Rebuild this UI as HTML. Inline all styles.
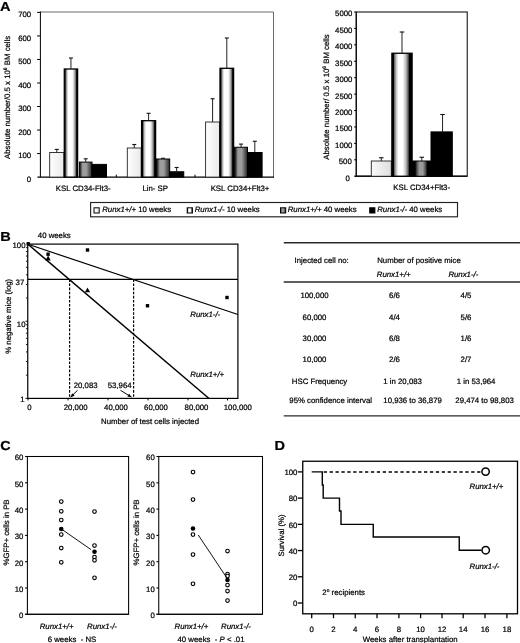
<!DOCTYPE html>
<html><head><meta charset="utf-8"><title>Figure</title>
<style>
html,body{margin:0;padding:0;background:#fff;}
svg{display:block;}
svg text{font-family:"Liberation Sans",sans-serif;fill:#000;stroke:#000;stroke-width:0.22px;text-rendering:geometricPrecision;}
</style></head>
<body>
<svg width="520" height="643" viewBox="0 0 520 643">
<rect x="0" y="0" width="520" height="643" fill="#fff"/>
<filter id="soft" x="0" y="0" width="520" height="643" filterUnits="userSpaceOnUse"><feGaussianBlur stdDeviation="0.3"/></filter>
<g>
<defs>
<linearGradient id="g1a" x1="0" x2="1" y1="0" y2="0"><stop offset="0" stop-color="#ffffff"/><stop offset="1" stop-color="#e9e9e9"/></linearGradient>
<linearGradient id="g1" x1="0" x2="1" y1="0" y2="0"><stop offset="0" stop-color="#fafafa"/><stop offset="1" stop-color="#dedede"/></linearGradient>
<linearGradient id="g2a" x1="0" x2="1" y1="0" y2="0"><stop offset="0" stop-color="#000"/><stop offset="0.06" stop-color="#000"/><stop offset="0.12" stop-color="#666"/><stop offset="0.21" stop-color="#c8c8c8"/><stop offset="0.31" stop-color="#fff"/><stop offset="0.6" stop-color="#fff"/><stop offset="0.74" stop-color="#c8c8c8"/><stop offset="0.86" stop-color="#666"/><stop offset="0.93" stop-color="#000"/><stop offset="1" stop-color="#000"/></linearGradient>
<linearGradient id="g2" x1="0" x2="1" y1="0" y2="0"><stop offset="0" stop-color="#000"/><stop offset="0.08" stop-color="#000"/><stop offset="0.12" stop-color="#666"/><stop offset="0.22" stop-color="#c8c8c8"/><stop offset="0.33" stop-color="#fff"/><stop offset="0.53" stop-color="#fff"/><stop offset="0.67" stop-color="#c8c8c8"/><stop offset="0.8" stop-color="#666"/><stop offset="0.87" stop-color="#000"/><stop offset="1" stop-color="#000"/></linearGradient>
<linearGradient id="g3" x1="0" x2="1" y1="0" y2="0"><stop offset="0" stop-color="#111"/><stop offset="0.1" stop-color="#3a3a3a"/><stop offset="0.25" stop-color="#9c9c9c"/><stop offset="0.55" stop-color="#9c9c9c"/><stop offset="0.8" stop-color="#5a5a5a"/><stop offset="1" stop-color="#222"/></linearGradient>
<linearGradient id="g3b" x1="0" x2="1" y1="0" y2="0"><stop offset="0" stop-color="#000"/><stop offset="0.14" stop-color="#000"/><stop offset="0.22" stop-color="#444"/><stop offset="0.36" stop-color="#9a9a9a"/><stop offset="0.56" stop-color="#9a9a9a"/><stop offset="0.7" stop-color="#505050"/><stop offset="0.8" stop-color="#000"/><stop offset="1" stop-color="#000"/></linearGradient>
</defs>
<line x1="40.4" y1="12.0" x2="273.5" y2="12.0" stroke="#6a6a6a" stroke-width="1"/>
<line x1="273.5" y1="12.0" x2="273.5" y2="177.1" stroke="#6a6a6a" stroke-width="1"/>
<line x1="40.4" y1="11.5" x2="40.4" y2="177.1" stroke="#000" stroke-width="1"/>
<line x1="37.4" y1="177.1" x2="274.0" y2="177.1" stroke="#000" stroke-width="1.1"/>
<line x1="37.1" y1="153.57142857142856" x2="40.4" y2="153.57142857142856" stroke="#000" stroke-width="1"/>
<line x1="37.1" y1="130.04285714285714" x2="40.4" y2="130.04285714285714" stroke="#000" stroke-width="1"/>
<line x1="37.1" y1="106.51428571428572" x2="40.4" y2="106.51428571428572" stroke="#000" stroke-width="1"/>
<line x1="37.1" y1="82.9857142857143" x2="40.4" y2="82.9857142857143" stroke="#000" stroke-width="1"/>
<line x1="37.1" y1="59.457142857142856" x2="40.4" y2="59.457142857142856" stroke="#000" stroke-width="1"/>
<line x1="37.1" y1="35.928571428571445" x2="40.4" y2="35.928571428571445" stroke="#000" stroke-width="1"/>
<line x1="37.1" y1="12.400000000000006" x2="40.4" y2="12.400000000000006" stroke="#000" stroke-width="1"/>
<line x1="116.3" y1="174.6" x2="116.3" y2="177.1" stroke="#000" stroke-width="1"/>
<line x1="195" y1="174.6" x2="195" y2="177.1" stroke="#000" stroke-width="1"/>
<rect x="49.70" y="152.50" width="14.20" height="24.60" fill="url(#g1a)" stroke="#222" stroke-width="0.9"/>
<line x1="56.8" y1="152.5" x2="56.8" y2="149.4" stroke="#222" stroke-width="1"/>
<line x1="54.8" y1="149.4" x2="58.8" y2="149.4" stroke="#111" stroke-width="1.1"/>
<rect x="64.30" y="69.00" width="13.30" height="108.10" fill="url(#g2a)" stroke="#000" stroke-width="1.3"/>
<line x1="70.94999999999999" y1="69" x2="70.94999999999999" y2="58" stroke="#222" stroke-width="1"/>
<line x1="68.94999999999999" y1="58" x2="72.94999999999999" y2="58" stroke="#111" stroke-width="1.1"/>
<rect x="79.40" y="162.10" width="12.60" height="15.00" fill="url(#g3)" stroke="#000" stroke-width="1.0"/>
<line x1="85.7" y1="162.1" x2="85.7" y2="158.8" stroke="#222" stroke-width="1"/>
<line x1="83.7" y1="158.8" x2="87.7" y2="158.8" stroke="#111" stroke-width="1.1"/>
<rect x="92.00" y="164.40" width="14.50" height="12.70" fill="#000" stroke="#000" stroke-width="1.0"/>
<rect x="127.30" y="148.00" width="13.90" height="29.10" fill="url(#g1a)" stroke="#222" stroke-width="0.9"/>
<line x1="134.25" y1="148" x2="134.25" y2="144.5" stroke="#222" stroke-width="1"/>
<line x1="132.25" y1="144.5" x2="136.25" y2="144.5" stroke="#111" stroke-width="1.1"/>
<rect x="141.60" y="120.70" width="14.00" height="56.40" fill="url(#g2a)" stroke="#000" stroke-width="1.3"/>
<line x1="148.6" y1="120.7" x2="148.6" y2="113.3" stroke="#222" stroke-width="1"/>
<line x1="146.6" y1="113.3" x2="150.6" y2="113.3" stroke="#111" stroke-width="1.1"/>
<rect x="156.40" y="159.00" width="13.30" height="18.10" fill="url(#g3)" stroke="#000" stroke-width="1.0"/>
<line x1="163.05" y1="159" x2="163.05" y2="158.3" stroke="#222" stroke-width="1"/>
<line x1="161.05" y1="158.3" x2="165.05" y2="158.3" stroke="#111" stroke-width="1.1"/>
<rect x="169.50" y="171.75" width="14.25" height="5.35" fill="#000" stroke="#000" stroke-width="1.0"/>
<line x1="176.625" y1="171.75" x2="176.625" y2="167.5" stroke="#222" stroke-width="1"/>
<line x1="174.625" y1="167.5" x2="178.625" y2="167.5" stroke="#111" stroke-width="1.1"/>
<rect x="205.60" y="122.00" width="14.00" height="55.10" fill="url(#g1a)" stroke="#222" stroke-width="0.9"/>
<line x1="212.6" y1="122" x2="212.6" y2="98.75" stroke="#222" stroke-width="1"/>
<line x1="210.6" y1="98.75" x2="214.6" y2="98.75" stroke="#111" stroke-width="1.1"/>
<rect x="220.00" y="68.30" width="13.60" height="108.80" fill="url(#g2a)" stroke="#000" stroke-width="1.3"/>
<line x1="226.8" y1="68.3" x2="226.8" y2="38" stroke="#222" stroke-width="1"/>
<line x1="224.8" y1="38" x2="228.8" y2="38" stroke="#111" stroke-width="1.1"/>
<rect x="234.60" y="147.25" width="12.90" height="29.85" fill="url(#g3)" stroke="#000" stroke-width="1.0"/>
<line x1="241.05" y1="147.25" x2="241.05" y2="144.1" stroke="#222" stroke-width="1"/>
<line x1="239.05" y1="144.1" x2="243.05" y2="144.1" stroke="#111" stroke-width="1.1"/>
<rect x="247.50" y="152.50" width="14.60" height="24.60" fill="#000" stroke="#000" stroke-width="1.0"/>
<line x1="254.8" y1="152.5" x2="254.8" y2="141.25" stroke="#222" stroke-width="1"/>
<line x1="252.8" y1="141.25" x2="256.8" y2="141.25" stroke="#111" stroke-width="1.1"/>
<rect x="90.60" y="202.50" width="366.90" height="14.30" fill="none" stroke="#222" stroke-width="1.15"/>
<rect x="94.00" y="207.80" width="5.20" height="5.20" fill="url(#g1a)" stroke="#000" stroke-width="1"/>
<rect x="187.20" y="207.80" width="5.20" height="5.20" fill="url(#g2a)" stroke="#000" stroke-width="1"/>
<rect x="280.50" y="207.80" width="5.20" height="5.20" fill="url(#g3)" stroke="#000" stroke-width="1"/>
<rect x="369.70" y="207.80" width="5.20" height="5.20" fill="#000" stroke="#000" stroke-width="1"/>
<rect x="356.30" y="12.00" width="110.95" height="164.25" fill="none" stroke="#222" stroke-width="1.15"/>
<line x1="354.3" y1="176.25" x2="467.25" y2="176.25" stroke="#111" stroke-width="1.35"/>
<line x1="356.3" y1="12.0" x2="356.3" y2="176.25" stroke="#111" stroke-width="1.3"/>
<line x1="354.1" y1="159.825" x2="356.3" y2="159.825" stroke="#000" stroke-width="1"/>
<line x1="354.1" y1="143.4" x2="356.3" y2="143.4" stroke="#000" stroke-width="1"/>
<line x1="354.1" y1="126.975" x2="356.3" y2="126.975" stroke="#000" stroke-width="1"/>
<line x1="354.1" y1="110.55000000000001" x2="356.3" y2="110.55000000000001" stroke="#000" stroke-width="1"/>
<line x1="354.1" y1="94.125" x2="356.3" y2="94.125" stroke="#000" stroke-width="1"/>
<line x1="354.1" y1="77.7" x2="356.3" y2="77.7" stroke="#000" stroke-width="1"/>
<line x1="354.1" y1="61.275000000000006" x2="356.3" y2="61.275000000000006" stroke="#000" stroke-width="1"/>
<line x1="354.1" y1="44.85000000000002" x2="356.3" y2="44.85000000000002" stroke="#000" stroke-width="1"/>
<line x1="354.1" y1="28.42500000000001" x2="356.3" y2="28.42500000000001" stroke="#000" stroke-width="1"/>
<line x1="354.1" y1="12.0" x2="356.3" y2="12.0" stroke="#000" stroke-width="1"/>
<rect x="371.30" y="161.00" width="20.00" height="15.25" fill="url(#g1)" stroke="#222" stroke-width="0.9"/>
<line x1="381.3" y1="161" x2="381.3" y2="157.75" stroke="#222" stroke-width="1"/>
<line x1="379.05" y1="157.75" x2="383.55" y2="157.75" stroke="#111" stroke-width="1.1"/>
<rect x="391.90" y="53.25" width="20.20" height="123.00" fill="url(#g2)" stroke="#000" stroke-width="1.3"/>
<line x1="402.0" y1="53.25" x2="402.0" y2="32" stroke="#222" stroke-width="1"/>
<line x1="399.75" y1="32" x2="404.25" y2="32" stroke="#111" stroke-width="1.1"/>
<rect x="412.60" y="161.00" width="18.40" height="15.25" fill="url(#g3b)" stroke="#000" stroke-width="1.0"/>
<line x1="421.8" y1="161" x2="421.8" y2="157.25" stroke="#222" stroke-width="1"/>
<line x1="419.55" y1="157.25" x2="424.05" y2="157.25" stroke="#111" stroke-width="1.1"/>
<rect x="431.00" y="131.90" width="21.30" height="44.35" fill="#000" stroke="#000" stroke-width="1.0"/>
<line x1="442.54999999999995" y1="131.9" x2="442.54999999999995" y2="114.5" stroke="#222" stroke-width="1"/>
<line x1="440.29999999999995" y1="114.5" x2="444.79999999999995" y2="114.5" stroke="#111" stroke-width="1.1"/>
<rect x="27.75" y="244.10" width="210.15" height="154.30" fill="none" stroke="#000" stroke-width="1.2"/>
<line x1="27.75" y1="279.4" x2="237.9" y2="279.4" stroke="#000" stroke-width="1.1"/>
<line x1="25.95" y1="247.6301903967561" x2="27.75" y2="247.6301903967561" stroke="#000" stroke-width="0.9"/>
<line x1="25.95" y1="251.57660750357155" x2="27.75" y2="251.57660750357155" stroke="#000" stroke-width="0.9"/>
<line x1="25.95" y1="256.0506862129001" x2="27.75" y2="256.0506862129001" stroke="#000" stroke-width="0.9"/>
<line x1="25.95" y1="261.2156310329019" x2="27.75" y2="261.2156310329019" stroke="#000" stroke-width="0.9"/>
<line x1="25.95" y1="267.3244641654761" x2="27.75" y2="267.3244641654761" stroke="#000" stroke-width="0.9"/>
<line x1="25.95" y1="274.8010716690477" x2="27.75" y2="274.8010716690477" stroke="#000" stroke-width="0.9"/>
<line x1="25.95" y1="284.44009519837806" x2="27.75" y2="284.44009519837806" stroke="#000" stroke-width="0.9"/>
<line x1="25.95" y1="298.02553583452385" x2="27.75" y2="298.02553583452385" stroke="#000" stroke-width="0.9"/>
<line x1="25.55" y1="321.25" x2="27.75" y2="321.25" stroke="#000" stroke-width="1"/>
<line x1="25.95" y1="324.7801903967561" x2="27.75" y2="324.7801903967561" stroke="#000" stroke-width="0.9"/>
<line x1="25.95" y1="328.72660750357153" x2="27.75" y2="328.72660750357153" stroke="#000" stroke-width="0.9"/>
<line x1="25.95" y1="333.2006862129001" x2="27.75" y2="333.2006862129001" stroke="#000" stroke-width="0.9"/>
<line x1="25.95" y1="338.3656310329019" x2="27.75" y2="338.3656310329019" stroke="#000" stroke-width="0.9"/>
<line x1="25.95" y1="344.47446416547615" x2="27.75" y2="344.47446416547615" stroke="#000" stroke-width="0.9"/>
<line x1="25.95" y1="351.9510716690477" x2="27.75" y2="351.9510716690477" stroke="#000" stroke-width="0.9"/>
<line x1="25.95" y1="361.59009519837804" x2="27.75" y2="361.59009519837804" stroke="#000" stroke-width="0.9"/>
<line x1="25.95" y1="375.1755358345238" x2="27.75" y2="375.1755358345238" stroke="#000" stroke-width="0.9"/>
<line x1="25.55" y1="398.4" x2="27.75" y2="398.4" stroke="#000" stroke-width="1"/>
<line x1="28" y1="244.3" x2="237.9" y2="314.5" stroke="#000" stroke-width="1.2"/>
<line x1="28" y1="244.3" x2="208.75" y2="398.3" stroke="#000" stroke-width="1.5"/>
<line x1="69.6" y1="279.4" x2="69.6" y2="398" stroke="#000" stroke-width="1.2" stroke-dasharray="2.6 1.5"/>
<line x1="133.6" y1="279.4" x2="133.6" y2="398" stroke="#000" stroke-width="1.2" stroke-dasharray="2.6 1.5"/>
<rect x="26.50" y="242.10" width="3.40" height="3.40" fill="#000" stroke="none" stroke-width="1"/>
<rect x="85.80" y="248.30" width="3.40" height="3.40" fill="#000" stroke="none" stroke-width="1"/>
<rect x="145.80" y="304.05" width="3.40" height="3.40" fill="#000" stroke="none" stroke-width="1"/>
<rect x="225.30" y="295.80" width="3.40" height="3.40" fill="#000" stroke="none" stroke-width="1"/>
<rect x="46.40" y="252.50" width="3.40" height="3.40" fill="#000" stroke="none" stroke-width="1"/>
<polygon points="48.1,255.6 50.7,260.40999999999997 45.5,260.40999999999997" fill="#000"/>
<polygon points="87.5,287.4 90.1,292.21 84.9,292.21" fill="#000"/>
<line x1="28" y1="398.4" x2="28" y2="400.4" stroke="#000" stroke-width="1"/>
<line x1="68" y1="398.4" x2="68" y2="400.4" stroke="#000" stroke-width="1"/>
<line x1="108" y1="398.4" x2="108" y2="400.4" stroke="#000" stroke-width="1"/>
<line x1="148" y1="398.4" x2="148" y2="400.4" stroke="#000" stroke-width="1"/>
<line x1="188" y1="398.4" x2="188" y2="400.4" stroke="#000" stroke-width="1"/>
<line x1="227.5" y1="398.4" x2="227.5" y2="400.4" stroke="#000" stroke-width="1"/>
<line x1="77.5" y1="390.3" x2="70.6" y2="397.2" stroke="#000" stroke-width="1"/>
<polygon points="70.60,397.20 72.14,393.18 74.62,395.66" fill="#000"/>
<line x1="120.5" y1="390.3" x2="131.6" y2="397.2" stroke="#000" stroke-width="1"/>
<polygon points="131.60,397.20 127.34,396.62 129.19,393.64" fill="#000"/>
<line x1="283.75" y1="242.75" x2="520" y2="242.75" stroke="#2a2a2a" stroke-width="1.4"/>
<line x1="283.75" y1="282" x2="520" y2="282" stroke="#2a2a2a" stroke-width="1.4"/>
<line x1="283.75" y1="415.9" x2="520" y2="415.9" stroke="#2a2a2a" stroke-width="1.4"/>
<rect x="27.40" y="456.50" width="101.20" height="157.80" fill="none" stroke="#000" stroke-width="1.05"/>
<line x1="25.099999999999998" y1="614.3" x2="128.6" y2="614.3" stroke="#000" stroke-width="1.1"/>
<line x1="25.099999999999998" y1="614.3" x2="27.4" y2="614.3" stroke="#000" stroke-width="1.1"/>
<line x1="25.099999999999998" y1="588.0" x2="27.4" y2="588.0" stroke="#000" stroke-width="1.1"/>
<line x1="25.099999999999998" y1="561.6999999999999" x2="27.4" y2="561.6999999999999" stroke="#000" stroke-width="1.1"/>
<line x1="25.099999999999998" y1="535.4" x2="27.4" y2="535.4" stroke="#000" stroke-width="1.1"/>
<line x1="25.099999999999998" y1="509.09999999999997" x2="27.4" y2="509.09999999999997" stroke="#000" stroke-width="1.1"/>
<line x1="25.099999999999998" y1="482.79999999999995" x2="27.4" y2="482.79999999999995" stroke="#000" stroke-width="1.1"/>
<line x1="25.099999999999998" y1="456.5" x2="27.4" y2="456.5" stroke="#000" stroke-width="1.1"/>
<circle cx="61.25" cy="501.5" r="1.8" fill="#fff" stroke="#000" stroke-width="1.15"/>
<circle cx="61.25" cy="511.25" r="1.8" fill="#fff" stroke="#000" stroke-width="1.15"/>
<circle cx="61.25" cy="520" r="1.8" fill="#fff" stroke="#000" stroke-width="1.15"/>
<circle cx="61.25" cy="534.5" r="1.8" fill="#fff" stroke="#000" stroke-width="1.15"/>
<circle cx="61.25" cy="548" r="1.8" fill="#fff" stroke="#000" stroke-width="1.15"/>
<circle cx="61.25" cy="562.25" r="1.8" fill="#fff" stroke="#000" stroke-width="1.15"/>
<circle cx="61.25" cy="529" r="2.3" fill="#000"/>
<circle cx="94.5" cy="511.5" r="1.8" fill="#fff" stroke="#000" stroke-width="1.15"/>
<circle cx="94.5" cy="545.5" r="1.8" fill="#fff" stroke="#000" stroke-width="1.15"/>
<circle cx="94.5" cy="557" r="1.8" fill="#fff" stroke="#000" stroke-width="1.15"/>
<circle cx="94.5" cy="560.25" r="1.8" fill="#fff" stroke="#000" stroke-width="1.15"/>
<circle cx="94.5" cy="577.75" r="1.8" fill="#fff" stroke="#000" stroke-width="1.15"/>
<circle cx="94.5" cy="551.75" r="2.3" fill="#000"/>
<line x1="62.2" y1="529.6" x2="91" y2="549.6" stroke="#111" stroke-width="1.0"/>
<rect x="158.75" y="456.50" width="103.75" height="157.80" fill="none" stroke="#000" stroke-width="1.05"/>
<line x1="156.45" y1="614.3" x2="262.5" y2="614.3" stroke="#000" stroke-width="1.1"/>
<line x1="156.45" y1="614.3" x2="158.75" y2="614.3" stroke="#000" stroke-width="1.1"/>
<line x1="156.45" y1="588.0" x2="158.75" y2="588.0" stroke="#000" stroke-width="1.1"/>
<line x1="156.45" y1="561.6999999999999" x2="158.75" y2="561.6999999999999" stroke="#000" stroke-width="1.1"/>
<line x1="156.45" y1="535.4" x2="158.75" y2="535.4" stroke="#000" stroke-width="1.1"/>
<line x1="156.45" y1="509.09999999999997" x2="158.75" y2="509.09999999999997" stroke="#000" stroke-width="1.1"/>
<line x1="156.45" y1="482.79999999999995" x2="158.75" y2="482.79999999999995" stroke="#000" stroke-width="1.1"/>
<line x1="156.45" y1="456.5" x2="158.75" y2="456.5" stroke="#000" stroke-width="1.1"/>
<circle cx="193" cy="472" r="1.8" fill="#fff" stroke="#000" stroke-width="1.15"/>
<circle cx="193" cy="499.5" r="1.8" fill="#fff" stroke="#000" stroke-width="1.15"/>
<circle cx="193" cy="534.5" r="1.8" fill="#fff" stroke="#000" stroke-width="1.15"/>
<circle cx="193" cy="554.5" r="1.8" fill="#fff" stroke="#000" stroke-width="1.15"/>
<circle cx="193" cy="583.75" r="1.8" fill="#fff" stroke="#000" stroke-width="1.15"/>
<circle cx="193" cy="528.5" r="2.3" fill="#000"/>
<circle cx="227.5" cy="551" r="1.8" fill="#fff" stroke="#000" stroke-width="1.15"/>
<circle cx="227.5" cy="574" r="1.8" fill="#fff" stroke="#000" stroke-width="1.15"/>
<circle cx="227.5" cy="576" r="1.8" fill="#fff" stroke="#000" stroke-width="1.15"/>
<circle cx="227.5" cy="585" r="1.8" fill="#fff" stroke="#000" stroke-width="1.15"/>
<circle cx="227.5" cy="591" r="1.8" fill="#fff" stroke="#000" stroke-width="1.15"/>
<circle cx="227.5" cy="600.5" r="1.8" fill="#fff" stroke="#000" stroke-width="1.15"/>
<circle cx="227.5" cy="580" r="2.3" fill="#000"/>
<line x1="198.25" y1="535" x2="226.25" y2="577" stroke="#111" stroke-width="1.0"/>
<rect x="302.75" y="461.25" width="214.75" height="152.55" fill="none" stroke="#000" stroke-width="1.3"/>
<line x1="297.75" y1="471.9" x2="302.75" y2="471.9" stroke="#000" stroke-width="1.3"/>
<line x1="297.75" y1="498.12" x2="302.75" y2="498.12" stroke="#000" stroke-width="1.3"/>
<line x1="297.75" y1="524.3399999999999" x2="302.75" y2="524.3399999999999" stroke="#000" stroke-width="1.3"/>
<line x1="297.75" y1="550.56" x2="302.75" y2="550.56" stroke="#000" stroke-width="1.3"/>
<line x1="297.75" y1="576.78" x2="302.75" y2="576.78" stroke="#000" stroke-width="1.3"/>
<line x1="297.75" y1="603.0" x2="302.75" y2="603.0" stroke="#000" stroke-width="1.3"/>
<line x1="311.7" y1="613.8" x2="311.7" y2="618.1999999999999" stroke="#000" stroke-width="1.3"/>
<line x1="333.5" y1="613.8" x2="333.5" y2="618.1999999999999" stroke="#000" stroke-width="1.3"/>
<line x1="355.25" y1="613.8" x2="355.25" y2="618.1999999999999" stroke="#000" stroke-width="1.3"/>
<line x1="377" y1="613.8" x2="377" y2="618.1999999999999" stroke="#000" stroke-width="1.3"/>
<line x1="398.9" y1="613.8" x2="398.9" y2="618.1999999999999" stroke="#000" stroke-width="1.3"/>
<line x1="420.6" y1="613.8" x2="420.6" y2="618.1999999999999" stroke="#000" stroke-width="1.3"/>
<line x1="442" y1="613.8" x2="442" y2="618.1999999999999" stroke="#000" stroke-width="1.3"/>
<line x1="463.2" y1="613.8" x2="463.2" y2="618.1999999999999" stroke="#000" stroke-width="1.3"/>
<line x1="485" y1="613.8" x2="485" y2="618.1999999999999" stroke="#000" stroke-width="1.3"/>
<line x1="506.9" y1="613.8" x2="506.9" y2="618.1999999999999" stroke="#000" stroke-width="1.3"/>
<polyline fill="none" stroke="#000" stroke-width="1.4" points="311.7,471.9 322.3,471.9 322.3,485 323.2,485 323.2,498.1 339.5,498.1 339.5,511 341,511 341,524.4 373.25,524.4 373.25,537 459.25,537 459.25,550.3 481.5,550.3"/>
<line x1="323.7" y1="471.9" x2="481.9" y2="471.9" stroke="#000" stroke-width="1.5" stroke-dasharray="3.3 2.6"/>
<circle cx="485.6" cy="471.6" r="3.7" fill="#fff" stroke="#000" stroke-width="1.5"/>
<circle cx="485.7" cy="550.2" r="3.7" fill="#fff" stroke="#000" stroke-width="1.5"/>
</g>
<g filter="url(#soft)">
<text transform="translate(0.0 10.7) scale(1.12 1)" font-size="13" font-weight="bold">A</text>
<text transform="translate(0.3 240.6) scale(1.12 1)" font-size="13" font-weight="bold">B</text>
<text transform="translate(0.3 450.3) scale(1.1 1)" font-size="13" font-weight="bold">C</text>
<text transform="translate(274.4 450.1) scale(1.12 1)" font-size="13" font-weight="bold">D</text>
<text transform="translate(31.2 181.7)" font-size="7.8" text-anchor="end">0</text>
<text transform="translate(31.2 158.17142857142855)" font-size="7.8" text-anchor="end">100</text>
<text transform="translate(31.2 134.64285714285714)" font-size="7.8" text-anchor="end">200</text>
<text transform="translate(31.2 111.11428571428571)" font-size="7.8" text-anchor="end">300</text>
<text transform="translate(31.2 87.58571428571429)" font-size="7.8" text-anchor="end">400</text>
<text transform="translate(31.2 64.05714285714285)" font-size="7.8" text-anchor="end">500</text>
<text transform="translate(31.2 40.528571428571446)" font-size="7.8" text-anchor="end">600</text>
<text transform="translate(31.2 17.000000000000007)" font-size="7.8" text-anchor="end">700</text>
<text transform="translate(83.2 191.2)" font-size="7.8" text-anchor="middle">KSL CD34-Flt3-</text>
<text transform="translate(155.2 191.2)" font-size="7.8" text-anchor="middle">Lin- SP</text>
<text transform="translate(240 191.2)" font-size="7.8" text-anchor="middle">KSL CD34+Flt3+</text>
<text transform="translate(9.6 97.4) rotate(-90)" font-size="7.8" text-anchor="middle">Absolute number/0.5 x 10<tspan font-size="5" dy="-3">6</tspan><tspan dy="3"> BM cells</tspan></text>
<text transform="translate(102.2 212.4)" font-size="7.8"><tspan font-style="italic">Runx1+/+</tspan> 10 weeks</text>
<text transform="translate(194.7 212.4)" font-size="7.8"><tspan font-style="italic">Runx1-/-</tspan> 10 weeks</text>
<text transform="translate(287.7 212.4)" font-size="7.8"><tspan font-style="italic">Runx1+/+</tspan> 40 weeks</text>
<text transform="translate(377.2 212.4)" font-size="7.8"><tspan font-style="italic">Runx1-/-</tspan> 40 weeks</text>
<text transform="translate(349.8 180.65)" font-size="7.8" text-anchor="end">0</text>
<text transform="translate(351.8 164.225)" font-size="7.8" text-anchor="end">500</text>
<text transform="translate(352.4 147.8)" font-size="7.8" text-anchor="end">1000</text>
<text transform="translate(352.4 131.375)" font-size="7.8" text-anchor="end">1500</text>
<text transform="translate(352.4 114.95000000000002)" font-size="7.8" text-anchor="end">2000</text>
<text transform="translate(352.4 98.525)" font-size="7.8" text-anchor="end">2500</text>
<text transform="translate(352.4 82.10000000000001)" font-size="7.8" text-anchor="end">3000</text>
<text transform="translate(352.4 65.67500000000001)" font-size="7.8" text-anchor="end">3500</text>
<text transform="translate(352.4 49.25000000000002)" font-size="7.8" text-anchor="end">4000</text>
<text transform="translate(352.4 32.82500000000001)" font-size="7.8" text-anchor="end">4500</text>
<text transform="translate(352.4 16.4)" font-size="7.8" text-anchor="end">5000</text>
<text transform="translate(421.7 190)" font-size="7.8" text-anchor="middle">KSL CD34+Flt3-</text>
<text transform="translate(329.3 97) rotate(-90)" font-size="7.8" text-anchor="middle">Absolute number/ 0.5 x 10<tspan font-size="5" dy="-3">6</tspan><tspan dy="3"> BM cells</tspan></text>
<text transform="translate(37.8 238.1)" font-size="7.8">40 weeks</text>
<text transform="translate(25.5 248)" font-size="7.8" text-anchor="end">100</text>
<text transform="translate(24.3 285.3)" font-size="7.8" text-anchor="end">37</text>
<text transform="translate(25.5 327.4)" font-size="7.8" text-anchor="end">10</text>
<text transform="translate(24.6 402.2)" font-size="7.8" text-anchor="end">1</text>
<text transform="translate(29.5 410)" font-size="7.8" text-anchor="middle">0</text>
<text transform="translate(75.7 410)" font-size="7.8" text-anchor="middle">20,000</text>
<text transform="translate(116 410)" font-size="7.8" text-anchor="middle">40,000</text>
<text transform="translate(156 410)" font-size="7.8" text-anchor="middle">60,000</text>
<text transform="translate(196.5 410)" font-size="7.8" text-anchor="middle">80,000</text>
<text transform="translate(237.8 410)" font-size="7.8" text-anchor="middle">100,000</text>
<text transform="translate(150 424.4)" font-size="7.8" text-anchor="middle">Number of test cells injected</text>
<text transform="translate(73.7 387.8)" font-size="7.8">20,083</text>
<text transform="translate(107.7 387.8)" font-size="7.8">53,964</text>
<text transform="translate(190.3 316.8)" font-size="7.8" font-style="italic">Runx1-/-</text>
<text transform="translate(190.3 376.5)" font-size="7.8" font-style="italic">Runx1+/+</text>
<text transform="translate(10.6 316.3) rotate(-90)" font-size="7.8" text-anchor="middle">% negative mice (log)</text>
<text transform="translate(294.6 262.8)" font-size="7.8">Injected cell no:</text>
<text transform="translate(377.2 262.8)" font-size="7.8">Number of positive mice</text>
<text transform="translate(376.8 277.3)" font-size="7.8" font-style="italic">Runx1+/+</text>
<text transform="translate(448.4 277.3)" font-size="7.8" font-style="italic">Runx1-/-</text>
<text transform="translate(314.5 298.35)" font-size="7.8" text-anchor="middle">100,000</text>
<text transform="translate(394.5 298.35)" font-size="7.8" text-anchor="middle">6/6</text>
<text transform="translate(466 298.35)" font-size="7.8" text-anchor="middle">4/5</text>
<text transform="translate(314.5 319.6)" font-size="7.8" text-anchor="middle">60,000</text>
<text transform="translate(394.5 319.6)" font-size="7.8" text-anchor="middle">4/4</text>
<text transform="translate(466 319.6)" font-size="7.8" text-anchor="middle">5/6</text>
<text transform="translate(314.5 340.90000000000003)" font-size="7.8" text-anchor="middle">30,000</text>
<text transform="translate(394.5 340.90000000000003)" font-size="7.8" text-anchor="middle">6/8</text>
<text transform="translate(466 340.90000000000003)" font-size="7.8" text-anchor="middle">1/6</text>
<text transform="translate(314.5 362.3)" font-size="7.8" text-anchor="middle">10,000</text>
<text transform="translate(394.5 362.3)" font-size="7.8" text-anchor="middle">2/6</text>
<text transform="translate(466 362.3)" font-size="7.8" text-anchor="middle">2/7</text>
<text transform="translate(291.8 383.8)" font-size="7.8">HSC Frequency</text>
<text transform="translate(383.3 383.8)" font-size="7.8">1 in 20,083</text>
<text transform="translate(456.8 383.8)" font-size="7.8">1 in 53,964</text>
<text transform="translate(289.3 402.8)" font-size="7.8">95% confidence interval</text>
<text transform="translate(383.3 402.8)" font-size="7.8">10,936 to 36,879</text>
<text transform="translate(455.3 402.8)" font-size="7.8">29,474 to 98,803</text>
<text transform="translate(23.4 618.1999999999999)" font-size="7.8" text-anchor="end">0</text>
<text transform="translate(23.4 591.9)" font-size="7.8" text-anchor="end">10</text>
<text transform="translate(23.4 565.5999999999999)" font-size="7.8" text-anchor="end">20</text>
<text transform="translate(23.4 539.3)" font-size="7.8" text-anchor="end">30</text>
<text transform="translate(23.4 513.0)" font-size="7.8" text-anchor="end">40</text>
<text transform="translate(23.4 486.69999999999993)" font-size="7.8" text-anchor="end">50</text>
<text transform="translate(23.4 460.4)" font-size="7.8" text-anchor="end">60</text>
<text transform="translate(8.6 532.5) rotate(-90)" font-size="7.8" text-anchor="middle">%GFP+ cells in PB</text>
<text transform="translate(39.7 628.6)" font-size="7.8" font-style="italic">Runx1+/+</text>
<text transform="translate(87 628.6)" font-size="7.8" font-style="italic">Runx1-/-</text>
<text transform="translate(72 641.7)" font-size="7.8" text-anchor="middle">6 weeks&#160; - NS</text>
<text transform="translate(154.8 618.1999999999999)" font-size="7.8" text-anchor="end">0</text>
<text transform="translate(154.8 591.9)" font-size="7.8" text-anchor="end">10</text>
<text transform="translate(154.8 565.5999999999999)" font-size="7.8" text-anchor="end">20</text>
<text transform="translate(154.8 539.3)" font-size="7.8" text-anchor="end">30</text>
<text transform="translate(154.8 513.0)" font-size="7.8" text-anchor="end">40</text>
<text transform="translate(154.8 486.69999999999993)" font-size="7.8" text-anchor="end">50</text>
<text transform="translate(154.8 460.4)" font-size="7.8" text-anchor="end">60</text>
<text transform="translate(138.9 532.5) rotate(-90)" font-size="7.8" text-anchor="middle">%GFP+ cells in PB</text>
<text transform="translate(174.5 628.6)" font-size="7.8" font-style="italic">Runx1+/+</text>
<text transform="translate(221 628.6)" font-size="7.8" font-style="italic">Runx1-/-</text>
<text transform="translate(211 641.7)" font-size="7.8" text-anchor="middle">40 weeks&#160; - <tspan font-style="italic">P</tspan> &lt; .01</text>
<text transform="translate(297.4 475.09999999999997)" font-size="7.8" text-anchor="end">100</text>
<text transform="translate(297.4 501.32)" font-size="7.8" text-anchor="end">80</text>
<text transform="translate(297.4 527.54)" font-size="7.8" text-anchor="end">60</text>
<text transform="translate(297.4 553.76)" font-size="7.8" text-anchor="end">40</text>
<text transform="translate(297.4 579.98)" font-size="7.8" text-anchor="end">20</text>
<text transform="translate(297.4 606.2)" font-size="7.8" text-anchor="end">0</text>
<text transform="translate(311.7 631.75)" font-size="7.8" text-anchor="middle">0</text>
<text transform="translate(333.5 631.75)" font-size="7.8" text-anchor="middle">2</text>
<text transform="translate(355.25 631.75)" font-size="7.8" text-anchor="middle">4</text>
<text transform="translate(377 631.75)" font-size="7.8" text-anchor="middle">6</text>
<text transform="translate(398.9 631.75)" font-size="7.8" text-anchor="middle">8</text>
<text transform="translate(420.6 631.75)" font-size="7.8" text-anchor="middle">10</text>
<text transform="translate(442 631.75)" font-size="7.8" text-anchor="middle">12</text>
<text transform="translate(463.2 631.75)" font-size="7.8" text-anchor="middle">14</text>
<text transform="translate(485 631.75)" font-size="7.8" text-anchor="middle">16</text>
<text transform="translate(506.9 631.75)" font-size="7.8" text-anchor="middle">18</text>
<text transform="translate(410.2 641.6)" font-size="7.8" text-anchor="middle">Weeks after transplantation</text>
<text transform="translate(284.4 535.5) rotate(-90)" font-size="7.8" text-anchor="middle">Survival (%)</text>
<text transform="translate(322.3 595.3)" font-size="7.8">2<tspan font-size="5" dy="-3">o</tspan><tspan dy="3"> recipients</tspan></text>
<text transform="translate(469.5 488.5)" font-size="7.8" font-style="italic">Runx1+/+</text>
<text transform="translate(469.5 568.6)" font-size="7.8" font-style="italic">Runx1-/-</text>
</g>
</svg>
</body></html>
